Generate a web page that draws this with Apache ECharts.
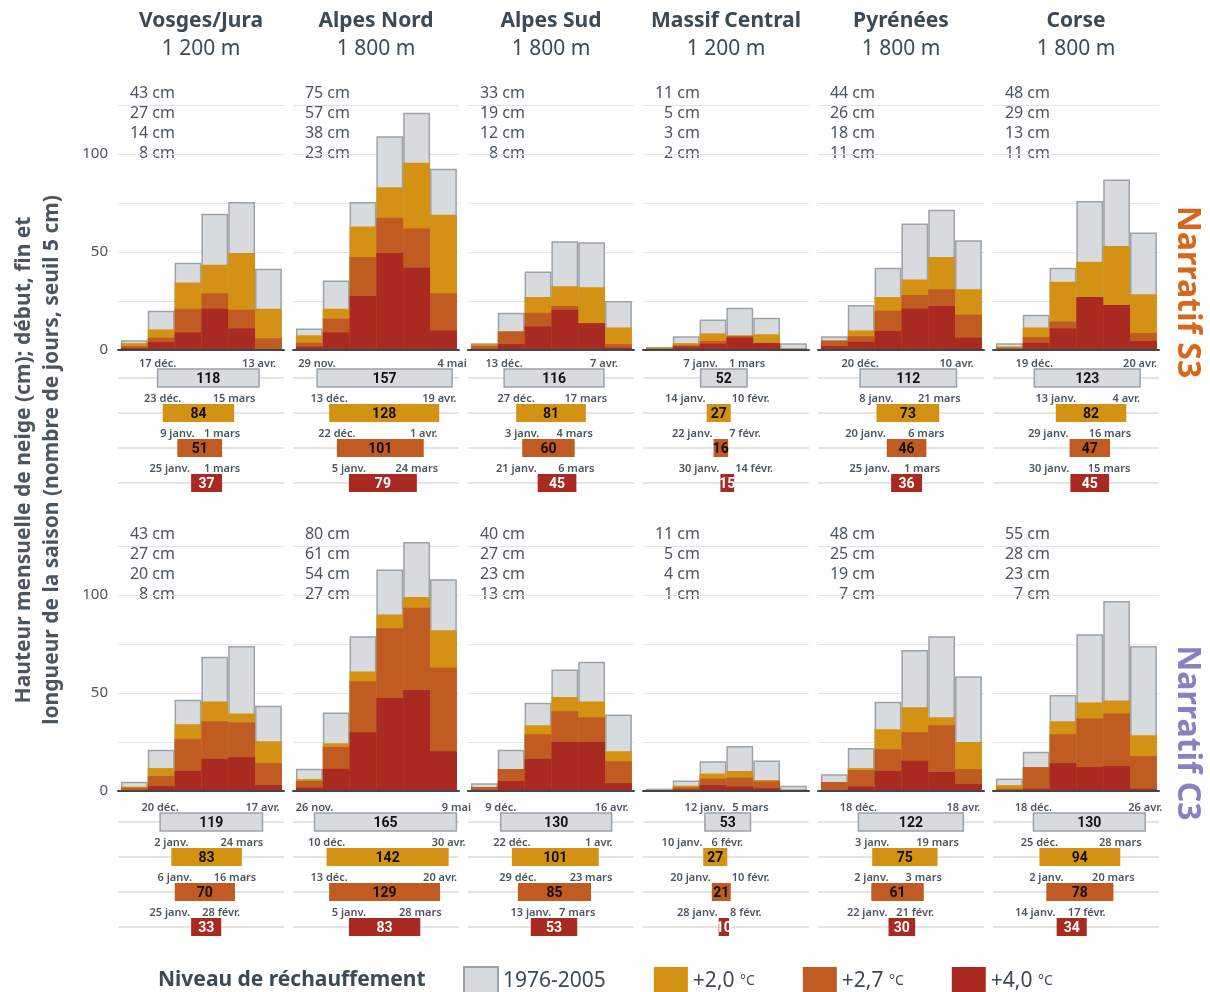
<!DOCTYPE html>
<html>
<head>
<meta charset="utf-8">
<script src="https://cdn.jsdelivr.net/npm/echarts@6/dist/echarts.min.js"></script>
<style>
    html, body { margin: 0; padding: 0; background: #fff; }
    #main { width: 1210px; height: 992px; }
</style>
</head>
<body>
<div id="main"></div>
<script>
    // régions et niveaux
    const regions = ['Vosges/Jura', 'Alpes Nord', 'Alpes Sud', 'Massif Central', 'Pyrénées', 'Corse'];
    const altitudes = ['1 200 m', '1 800 m', '1 800 m', '1 200 m', '1 800 m', '1 800 m'];
    const levels = ['1976-2005', '+2,0 °C', '+2,7 °C', '+4,0 °C'];
    const narratives = ['Narratif S3', 'Narratif C3'];
    const months = ['nov.', 'déc.', 'janv.', 'févr.', 'mars', 'avr.'];
    const yTicks = [0, 50, 100];

    // hauteur mensuelle de neige (cm), nov. -> avr., une ligne par région
    const s3Ref = [
        [5, 20, 44.5, 69.5, 75.5, 41.5],
        [11, 35.5, 75.5, 109, 121, 92.5],
        [3.5, 19, 40, 55.5, 55, 25],
        [1.5, 7, 15.5, 21.5, 16.5, 3.5],
        [7, 23, 42, 64.5, 71.5, 56],
        [3.5, 18, 42, 76, 87, 60]
    ];
    const s3Plus20 = [
        [3.5, 10.5, 34.5, 43.5, 49.5, 21],
        [7.5, 21, 63, 83, 95.5, 69],
        [3, 9.5, 27, 32.5, 32, 11.5],
        [1.2, 3.5, 8.5, 7.5, 8, 0.8],
        [4.8, 10, 27, 36, 47.5, 31],
        [1.8, 11.5, 34.8, 45, 53, 28.5]
    ];
    const s3Plus27 = [
        [2, 6.3, 21, 29, 20.5, 6],
        [3.7, 16, 47.5, 67.5, 62, 29],
        [2, 9.5, 19, 22.5, 13, 3],
        [0.8, 2.5, 4.6, 7.2, 3.7, 0.6],
        [4.8, 7, 20, 28, 31, 18],
        [1.2, 6.6, 14.5, 26.5, 22, 8.7]
    ];
    const s3Plus40 = [
        [1, 4, 9, 21, 11, 0.4],
        [1.7, 9, 27.5, 49.5, 42, 10],
        [0.5, 3, 12, 20.5, 13.7, 1.2],
        [0.5, 1.7, 3.2, 6.3, 3.5, 0.4],
        [2, 4.2, 9.7, 21, 22.5, 6.3],
        [0.5, 3.6, 11, 27, 23, 4.6]
    ];
    const c3Ref = [
        [4.7, 21, 46.5, 68.5, 74, 43.5],
        [11.3, 40, 79, 113, 127, 108],
        [4, 21, 45, 62, 66, 39],
        [1.2, 5.4, 15.2, 23, 15.6, 2.7],
        [8.5, 22, 45.5, 72, 79, 58.5],
        [6.4, 20, 49, 80, 97, 74]
    ];
    const c3Plus20 = [
        [2.2, 11.7, 34, 45.7, 39.6, 25.4],
        [6.1, 24.4, 61, 90, 99, 82],
        [2, 11.2, 33.5, 48, 45.7, 20.3],
        [0.7, 2.7, 8.9, 10.2, 5.6, 0.7],
        [4.6, 11.7, 31.5, 42.7, 37.6, 25],
        [3, 12.2, 35.6, 45.2, 46.2, 28.5]
    ];
    const c3Plus27 = [
        [1.7, 7.6, 26.4, 35.6, 35, 14.2],
        [5.1, 22.4, 56, 83, 93.5, 63],
        [2, 11.2, 29, 40.7, 37.6, 15.2],
        [0.5, 1.9, 6.3, 6.8, 4.9, 0.4],
        [4.6, 10.7, 21.3, 30, 33.5, 11.2],
        [1.2, 12.2, 29, 37, 39.6, 17.8]
    ];
    const c3Plus40 = [
        [0.5, 2.5, 10.2, 16.4, 17.3, 3],
        [1.7, 11.3, 30, 47.4, 51.5, 20.3],
        [0.3, 5.1, 16.4, 25, 25, 4],
        [0.3, 0.8, 3, 2.2, 1.4, 0.2],
        [0.5, 2.2, 10.2, 15.4, 9.7, 3.6],
        [0.3, 1.2, 14.2, 12.2, 12.7, 1.2]
    ];

    // textes "xx cm" en haut de chaque panneau
    const s3MaxCm = [[43, 27, 14, 8], [75, 57, 38, 23], [33, 19, 12, 8], [11, 5, 3, 2], [44, 26, 18, 11], [48, 29, 13, 11]];
    const c3MaxCm = [[43, 27, 20, 8], [80, 61, 54, 27], [40, 27, 23, 13], [11, 5, 4, 1], [48, 25, 19, 7], [55, 28, 23, 7]];

    // saison : début, fin, longueur (jours)
    const s3Start = [
        ['17 déc.', '23 déc.', '9 janv.', '25 janv.'],
        ['29 nov.', '13 déc.', '22 déc.', '5 janv.'],
        ['13 déc.', '27 déc.', '3 janv.', '21 janv.'],
        ['7 janv.', '14 janv.', '22 janv.', '30 janv.'],
        ['20 déc.', '8 janv.', '20 janv.', '25 janv.'],
        ['19 déc.', '13 janv.', '29 janv.', '30 janv.']
    ];
    const s3End = [
        ['13 avr.', '15 mars', '1 mars', '1 mars'],
        ['4 mai', '19 avr.', '1 avr.', '24 mars'],
        ['7 avr.', '17 mars', '4 mars', '6 mars'],
        ['1 mars', '10 févr.', '7 févr.', '14 févr.'],
        ['10 avr.', '21 mars', '6 mars', '1 mars'],
        ['20 avr.', '4 avr.', '16 mars', '15 mars']
    ];
    const s3Days = [[118, 84, 51, 37], [157, 128, 101, 79], [116, 81, 60, 45], [52, 27, 16, 15], [112, 73, 46, 36], [123, 82, 47, 45]];
    const c3Start = [
        ['20 déc.', '2 janv.', '6 janv.', '25 janv.'],
        ['26 nov.', '10 déc.', '13 déc.', '5 janv.'],
        ['9 déc.', '22 déc.', '29 déc.', '13 janv.'],
        ['12 janv.', '10 janv.', '20 janv.', '28 janv.'],
        ['18 déc.', '3 janv.', '2 janv.', '22 janv.'],
        ['18 déc.', '25 déc.', '2 janv.', '14 janv.']
    ];
    const c3End = [
        ['17 avr.', '24 mars', '16 mars', '28 févr.'],
        ['9 mai', '30 avr.', '20 avr.', '28 mars'],
        ['16 avr.', '1 avr.', '23 mars', '7 mars'],
        ['5 mars', '6 févr.', '10 févr.', '8 févr.'],
        ['18 avr.', '19 mars', '3 mars', '21 févr.'],
        ['26 avr.', '28 mars', '20 mars', '17 févr.']
    ];
    const c3Days = [[119, 83, 70, 33], [165, 142, 129, 83], [130, 101, 85, 53], [53, 27, 21, 10], [122, 75, 61, 30], [130, 94, 78, 34]];

    const snow = [[s3Ref, s3Plus20, s3Plus27, s3Plus40], [c3Ref, c3Plus20, c3Plus27, c3Plus40]];
    const maxCm = [s3MaxCm, c3MaxCm];
    const seasonStart = [s3Start, c3Start];
    const seasonEnd = [s3End, c3End];
    const seasonDays = [s3Days, c3Days];

    // styles
    const levelColors = ['#d8dbde', '#d39213', '#c05b22', '#a92a20'];
    const refBorder = '#9ba3a9';
    const ink = '#3b4a56';
    const soft = '#4b5560';
    const lineGrey = '#e4e4e4';
    const narrColors = ['#d9661a', '#8a7fc4'];
    const font = '"Noto Sans", sans-serif';

    const panelLeft = 118, panelStep = 175, panelWidth = 166;
    const barTop = [105, 546], barHeight = 245;
    const seasonTop = [378, 822], seasonHeight = 105;
    const monthMin = -0.61, monthMax = 5.58;
    const dayMax = 193;

    const monthStartDay = { 'nov.': 0, 'déc.': 30, 'janv.': 61, 'févr.': 92, 'mars': 120, 'avr.': 151, 'mai': 181 };
    function dayOf(label) {
        const parts = label.split(' ');
        return monthStartDay[parts[1]] + Number(parts[0]) - 1;
    }

    const measureCtx = document.createElement('canvas').getContext('2d');
    function textWidth(s, f) {
        measureCtx.font = f;
        return measureCtx.measureText(s).width;
    }

    const dateFont = '600 11px "Noto Sans"';

    function seasonRenderer(startLabels, endLabels) {
        return function (params, api) {
            const k = api.value(2);
            const a = api.coord([api.value(0), k]);
            const b = api.coord([api.value(1), k]);
            const x0 = a[0], x1 = b[0], yc = a[1];
            const ws = textWidth(startLabels[k], dateFont);
            const we = textWidth(endLabels[k], dateFont);
            let sAlign = 'center', eAlign = 'center', sx = x0, ex = x1;
            if (x0 + ws / 2 + 6 > x1 - we / 2) {
                sAlign = 'right'; sx = x0 - 1;
                if (x0 + 6 > x1 - we / 2) { eAlign = 'left'; ex = x1 + 1; }
            }
            const dateStyle = { fontSize: 11, fontWeight: 600, fontFamily: font, fill: soft, verticalAlign: 'middle' };
            return {
                type: 'group',
                children: [
                    {
                        type: 'rect',
                        shape: { x: x0, y: yc - 9, width: x1 - x0, height: 18 },
                        style: k === 0 ? { fill: levelColors[0], stroke: refBorder, lineWidth: 1.5 } : { fill: levelColors[k] }
                    },
                    {
                        type: 'text',
                        style: {
                            text: String(api.value(3)), x: (x0 + x1) / 2, y: yc + 1,
                            align: 'center', verticalAlign: 'middle',
                            fontSize: 14, fontWeight: 'bold', fontFamily: 'Roboto',
                            fill: k === 3 ? '#ffffff' : '#111111'
                        }
                    },
                    { type: 'text', style: Object.assign({ text: startLabels[k], x: sx, y: yc - 14, align: sAlign }, dateStyle) },
                    { type: 'text', style: Object.assign({ text: endLabels[k], x: ex, y: yc - 14, align: eAlign }, dateStyle) }
                ]
            };
        };
    }

    const grid = [], xAxis = [], yAxis = [], series = [], graphic = [];
    const barWidth = panelWidth / (monthMax - monthMin);

    for (let n = 0; n < 2; n++) {
        for (let r = 0; r < regions.length; r++) {
            const left = panelLeft + panelStep * r;

            // histogrammes mensuels
            const gi = grid.length;
            grid.push({ left: left, top: barTop[n], width: panelWidth, height: barHeight });
            xAxis.push({
                type: 'value', gridIndex: gi, min: monthMin, max: monthMax, z: 5,
                axisLine: { show: true, lineStyle: { color: '#3d4752', width: 2 } },
                axisTick: { show: false }, axisLabel: { show: false }, splitLine: { show: false }
            });
            yAxis.push({
                type: 'value', gridIndex: gi, min: 0, max: 125, interval: 25,
                axisLine: { show: false }, axisTick: { show: false },
                splitLine: { lineStyle: { color: lineGrey, width: 1 } },
                axisLabel: {
                    show: r === 0, margin: 10, color: soft, fontSize: 15, fontFamily: font,
                    formatter: v => (yTicks.indexOf(v) >= 0 ? String(v) : '')
                }
            });
            levels.forEach((name, k) => {
                series.push({
                    type: 'bar', name: name, xAxisIndex: gi, yAxisIndex: gi,
                    barWidth: barWidth, barGap: '-100%', clip: false,
                    itemStyle: k === 0
                        ? { color: levelColors[0], borderColor: refBorder, borderWidth: 1.5 }
                        : { color: levelColors[k] },
                    data: snow[n][k][r].map((v, i) => [i, v])
                });
            });

            // début / fin / longueur de saison
            const gj = grid.length;
            grid.push({ left: left, top: seasonTop[n], width: panelWidth, height: seasonHeight });
            xAxis.push({ type: 'value', gridIndex: gj, min: 0, max: dayMax, show: false });
            yAxis.push({
                type: 'value', gridIndex: gj, min: 0, max: 3, interval: 1, inverse: true,
                axisLine: { show: false }, axisTick: { show: false }, axisLabel: { show: false },
                splitLine: { show: true, lineStyle: { color: lineGrey, width: 2 } }
            });
            const starts = seasonStart[n][r], ends = seasonEnd[n][r], days = seasonDays[n][r];
            series.push({
                type: 'custom', name: 'saison', xAxisIndex: gj, yAxisIndex: gj,
                encode: { x: [0, 1], y: 2 },
                renderItem: seasonRenderer(starts, ends),
                data: starts.map((s, k) => [dayOf(s), dayOf(ends[k]) + 1, k, days[k]])
            });

            // textes cm
            maxCm[n][r].forEach((v, k) => {
                graphic.push({
                    type: 'text', x: left + 57, y: barTop[n] - 12 + 20.3 * k,
                    style: { text: v + ' cm', align: 'right', verticalAlign: 'middle', fontSize: 16, fontFamily: font, fill: soft }
                });
            });

            // titres des colonnes
            if (n === 0) {
                graphic.push({
                    type: 'text', x: left + panelWidth / 2, y: 21,
                    style: { text: regions[r], align: 'center', verticalAlign: 'middle', fontSize: 21, fontWeight: 'bold', fontFamily: font, fill: ink }
                });
                graphic.push({
                    type: 'text', x: left + panelWidth / 2, y: 49,
                    style: { text: altitudes[r], align: 'center', verticalAlign: 'middle', fontSize: 21, fontFamily: font, fill: ink }
                });
            }
        }
        graphic.push({
            type: 'text', x: 1187, y: n === 0 ? 292 : 733, rotation: -Math.PI / 2,
            style: { text: narratives[n], align: 'center', verticalAlign: 'middle', fontSize: 32, fontWeight: 'bold', fontFamily: font, fill: narrColors[n] }
        });
    }

    graphic.push({
        type: 'text', x: 38, y: 460, rotation: Math.PI / 2,
        style: {
            text: 'Hauteur mensuelle de neige (cm); début, fin et\nlongueur de la saison (nombre de jours, seuil 5 cm)',
            align: 'center', verticalAlign: 'middle', lineHeight: 28,
            fontSize: 21, fontWeight: 'bold', fontFamily: font, fill: soft
        }
    });
    graphic.push({
        type: 'text', x: 158, y: 980,
        style: { text: 'Niveau de réchauffement', align: 'left', verticalAlign: 'middle', fontSize: 21, fontWeight: 'bold', fontFamily: font, fill: ink }
    });

    const myChart = echarts.init(document.getElementById('main'));
    myChart.setOption({
        animation: false,
        backgroundColor: '#ffffff',
        textStyle: { fontFamily: font },
        legend: {
            data: levels, left: 463, top: 966, padding: 0,
            itemWidth: 34, itemHeight: 28, itemGap: 48, icon: 'rect', selectedMode: false,
            textStyle: {
                color: ink, fontSize: 21, fontFamily: font,
                rich: { u: { fontSize: 14, color: ink, fontFamily: font } }
            },
            formatter: name => name.replace('°C', '{u|°C}')
        },
        grid: grid,
        xAxis: xAxis,
        yAxis: yAxis,
        series: series,
        graphic: graphic
    });
</script>
</body>
</html>
